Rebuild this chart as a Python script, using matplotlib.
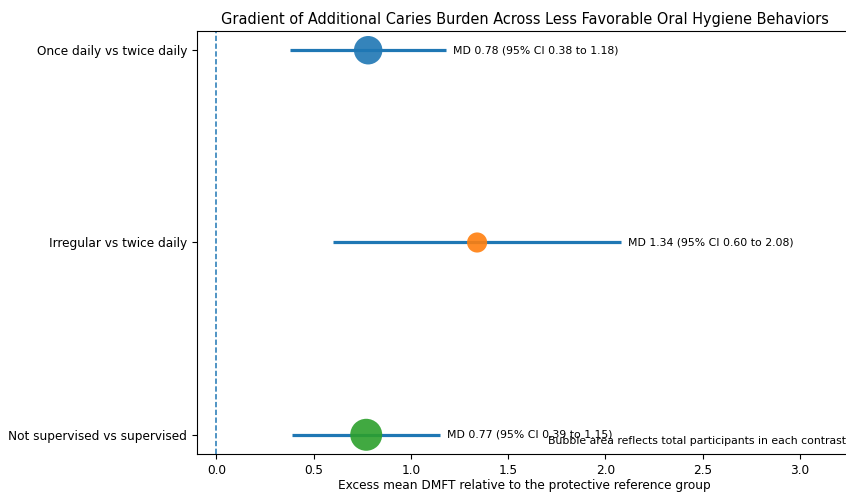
import numpy as np
import matplotlib.pyplot as plt

labels = ['Once daily vs twice daily', 'Irregular vs twice daily', 'Not supervised vs supervised']
md = [0.78, 1.34, 0.77]
ci_lo = [0.38, 0.60, 0.39]
ci_hi = [1.18, 2.08, 1.15]
participants = [4200, 2100, 5300]
colors = ['#1f77b4', '#ff7f0e', '#2ca02c']

plt.rcParams['font.size'] = 8.7

fig = plt.figure(figsize=(8.46, 4.92), dpi=100)
ax = fig.add_axes([197/846, 38/492, 655.5/846, 423/492])

y = np.arange(len(labels))
ax.axvline(0, color='#1f77b4', linestyle='--', linewidth=1.1, dashes=(3.5, 1.6))
ax.hlines(y, ci_lo, ci_hi, color='#1f77b4', linewidth=2.3, zorder=2)
sizes = np.array(participants) * 0.1
ax.scatter(md, y, s=sizes, c=colors, alpha=0.9, zorder=3, edgecolors='none')

for i in range(len(labels)):
    ax.text(ci_hi[i] + 0.035, y[i],
            'MD %.2f (95%% CI %.2f to %.2f)' % (md[i], ci_lo[i], ci_hi[i]),
            va='center', ha='left', fontsize=7.85)

ax.text(0.99, 0.02, 'Bubble area reflects total participants in each contrast',
        transform=ax.transAxes, ha='right', va='bottom', fontsize=7.85)

ax.set_yticks(y)
ax.set_yticklabels(labels)
ax.set_ylim(2.1, -0.1)
ax.set_xlim(-0.1, 3.27)
ax.set_xlabel('Excess mean DMFT relative to the protective reference group', labelpad=2)
ax.set_title('Gradient of Additional Caries Burden Across Less Favorable Oral Hygiene Behaviors', pad=5)

fig.savefig('out.png', dpi=100)
